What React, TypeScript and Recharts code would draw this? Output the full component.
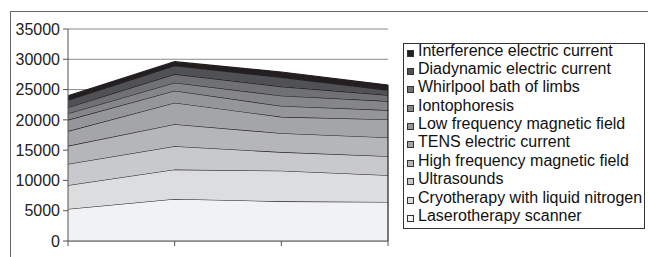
import React from 'react';
import { AreaChart, Area, XAxis, YAxis, CartesianGrid, ReferenceLine } from 'recharts';

const categories = ['1', '2', '3', '4'];
const seriesNames = [
  'Laserotherapy scanner',
  'Cryotherapy with liquid nitrogen',
  'Ultrasounds',
  'High frequency magnetic field',
  'TENS electric current',
  'Low frequency magnetic field',
  'Iontophoresis',
  'Whirlpool bath of limbs',
  'Diadynamic electric current',
  'Interference electric current',
];
const laser = [5290, 6950, 6550, 6450];
const cryo = [3920, 4850, 5050, 4410];
const ultra = [3520, 3860, 3080, 3140];
const highFreq = [2980, 3630, 3120, 3090];
const tens = [2430, 3530, 2700, 2980];
const lowFreq = [1870, 1990, 1800, 1540];
const ionto = [1050, 1320, 1700, 1490];
const whirlpool = [990, 1430, 1500, 990];
const diadynamic = [1210, 1380, 1500, 830];
const interference = [720, 660, 900, 820];
const yTicks = [0, 5000, 10000, 15000, 20000, 25000, 30000, 35000];

const seriesValues = [laser, cryo, ultra, highFreq, tens, lowFreq, ionto, whirlpool, diadynamic, interference];
const colors = ['#f1f2f4', '#dcdddf', '#c8c9cc', '#b5b6b9', '#a4a5a8', '#95969a', '#85868a', '#707174', '#505154', '#231f20'];

const data = categories.map((c, i) => {
  const row: Record<string, any> = { cat: c };
  seriesNames.forEach((n, k) => {
    row['s' + k] = seriesValues[k][i];
  });
  return row;
});
const totals = categories.map((_, i) => seriesValues.reduce((a, s) => a + s[i], 0));
const lastCat = categories[categories.length - 1];

const font = '"Liberation Sans", Arial, sans-serif';

export default function App() {
  return (
    <div style={{ position: 'fixed', left: 0, top: 0, width: 648, height: 257, overflow: 'hidden', background: '#fff' }}>
      <div style={{ position: 'absolute', left: 10, top: 11, width: 800, height: 400, border: '1px solid #666' }} />
      <div style={{ position: 'absolute', left: 0, top: 0 }}>
        <AreaChart width={648} height={257} data={data} margin={{ top: 29, right: 260, bottom: 0, left: 0 }}>
          <CartesianGrid vertical={false} stroke="#8a8a8a" strokeWidth={1} />
          <XAxis
            dataKey="cat"
            height={16}
            tickFormatter={() => ''}
            tickSize={5}
            axisLine={{ stroke: '#555' }}
            tickLine={{ stroke: '#555' }}
            interval={0}
          />
          <YAxis
            width={68}
            domain={[0, 35000]}
            ticks={yTicks}
            interval={0}
            tickSize={5}
            tickMargin={3}
            axisLine={{ stroke: '#555' }}
            tickLine={{ stroke: '#555' }}
            tick={{ fill: '#222', fontSize: 16, fontFamily: font }}
          />
          {seriesNames.map((n, k) => (
            <Area
              key={n}
              type="linear"
              dataKey={'s' + k}
              name={n}
              stackId="1"
              fill={colors[k]}
              fillOpacity={1}
              stroke="#231f20"
              strokeWidth={1.2}
              dot={false}
              activeDot={false}
              isAnimationActive={false}
            />
          ))}
          <ReferenceLine
            segment={[{ x: lastCat, y: 0 }, { x: lastCat, y: totals[totals.length - 1] }]}
            stroke="#231f20"
            strokeWidth={1.2}
          />
        </AreaChart>
      </div>
      <div style={{ position: 'absolute', left: 403, top: 43, width: 240, height: 184, border: '1px solid #333' }} />
      <div style={{ position: 'absolute', left: 406, top: 41.5, fontFamily: font, fontSize: 16, color: '#111' }}>
        {seriesNames
          .map((n, k) => ({ n, k }))
          .reverse()
          .map(({ n, k }) => (
            <div key={n} style={{ height: 18.4, lineHeight: '18.4px', whiteSpace: 'nowrap', position: 'relative' }}>
              <span
                style={{
                  position: 'absolute',
                  left: 1,
                  top: 8,
                  width: 5,
                  height: 5,
                  background: colors[k],
                  border: '1px solid #333',
                }}
              />
              <span style={{ position: 'absolute', left: 12 }}>{n}</span>
            </div>
          ))}
      </div>
    </div>
  );
}
